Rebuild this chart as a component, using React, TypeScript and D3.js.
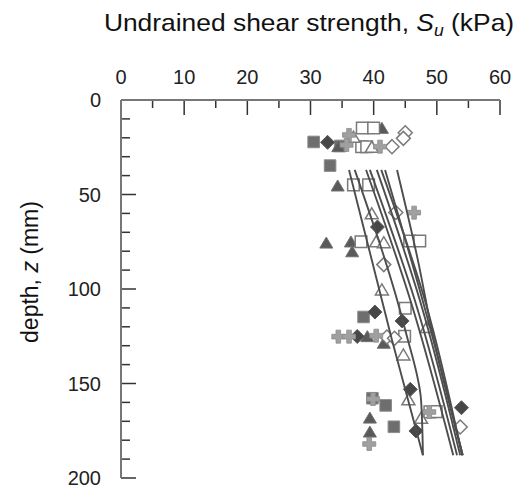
import React from 'react';
import * as d3 from 'd3';

// axis ticks
const xTicks = [0, 10, 20, 30, 40, 50, 60];
const yTicks = [0, 50, 100, 150, 200];

// measured points: [Su (kPa), depth (mm)]
const filledSquare = [[30.5, 22.2], [33.1, 34.7], [34.7, 24.3], [38.4, 114.8], [39.8, 157.8], [41.9, 161.6], [43.2, 172.9]];
const filledTriangle = [[41.3, 15.0], [34.4, 24.7], [34.3, 45.5], [32.5, 75.7], [36.4, 75.1], [36.6, 80.3], [39.0, 125.2], [41.6, 128.7], [39.4, 168.3], [39.4, 175.7]];
const openSquare = [[38.2, 14.8], [40.0, 14.8], [38.1, 24.7], [38.9, 24.7], [36.8, 44.9], [39.2, 44.9], [38.0, 75.0], [45.7, 74.6], [47.3, 74.6], [45.0, 110.2], [44.9, 125.0], [48.9, 165.0], [49.9, 164.9]];
const openTriangle = [[36.8, 19.7], [39.7, 25.0], [39.7, 60.2], [40.4, 75.0], [41.6, 75.5], [41.3, 100.5], [48.4, 120.4], [44.7, 134.9], [45.5, 158.6], [47.5, 168.4]];
const filledDiamond = [[32.7, 22.4], [40.6, 67.2], [40.2, 112.2], [44.5, 116.9], [37.4, 125.1], [45.8, 153.1], [53.9, 162.8], [46.7, 175.1]];
const openDiamond = [[45.0, 17.3], [44.7, 20.3], [42.9, 24.7], [43.5, 59.5], [41.6, 87.1], [42.1, 125.4], [43.3, 126.1], [53.7, 173.0]];
const grayPlus = [[36.1, 18.5], [35.7, 23.8], [41.0, 24.7], [46.4, 59.6], [34.4, 125.2], [36.1, 125.2], [40.4, 124.7], [39.9, 158.2], [39.3, 182.0], [48.8, 165.1]];

// fitted profiles: [Su, depth]
const fitLines = [
  [[36.1, 37], [42.9, 127], [47.8, 188]],
  [[37.0, 37], [45.0, 121.7], [47.5, 158.7], [47.8, 188]],
  [[38.8, 37], [45.8, 105.8], [52.6, 188]],
  [[39.4, 37], [46.5, 105.8], [53.2, 188]],
  [[40.5, 37], [47.3, 105.8], [53.7, 188]],
  [[41.2, 37], [48.1, 105.8], [54.0, 188]],
  [[41.8, 37], [48.6, 116.4], [54.1, 188]],
  [[43.7, 37], [47.0, 84.7], [49.2, 121.7], [54.1, 188]]
];

const width = 525,
  height = 489;
const x = d3.scaleLinear().domain([0, 60]).range([121, 500]);
const y = d3.scaleLinear().domain([0, 200]).range([100, 478]);

const font = 'Liberation Sans, Arial, sans-serif';

const shapes: Record<string, string> = {
  square: 'M-5.8,-5.8H5.8V5.8H-5.8Z',
  diamond: 'M0,-7L7,0L0,7L-7,0Z',
  triangle: 'M0,-6L6.5,5H-6.5Z',
  plus: 'M-2.3,-6.5H2.3V-2.3H6.5V2.3H2.3V6.5H-2.3V2.3H-6.5V-2.3H-2.3Z'
};

function Markers({ data, shape, fill, stroke, sw }) {
  return (
    <g>
      {data.map((d, i) => (
        <path
          key={i}
          d={shapes[shape]}
          transform={`translate(${x(d[0])},${y(d[1])})`}
          fill={fill}
          stroke={stroke}
          strokeWidth={sw}
        />
      ))}
    </g>
  );
}

export default function App() {
  const line = d3
    .line<number[]>()
    .x(d => x(d[0]))
    .y(d => y(d[1]))
    .curve(d3.curveMonotoneY);
  const xMinor = d3.range(0, 61, 5);
  const yMinor = d3.range(0, 201, 10);

  return (
    <svg width={width} height={height} style={{ position: 'absolute', left: 0, top: 0, background: '#fff' }}>
      {/* title */}
      <g transform="translate(309,31) scale(1.1,1)">
        <text textAnchor="middle" fontFamily={font} fontSize={24} fill="#111">
          Undrained shear strength, <tspan fontStyle="italic">S</tspan>
          <tspan fontStyle="italic" fontSize={16} dy={5}>u</tspan>
          <tspan dy={-5}> (kPa)</tspan>
        </text>
      </g>
      {/* y title */}
      <text
        transform="translate(38,272) rotate(-90)"
        textAnchor="middle"
        fontFamily={font}
        fontSize={23}
        fill="#111"
      >
        depth, <tspan fontStyle="italic">z</tspan> (mm)
      </text>

      {/* x axis on top */}
      {xTicks.map(t => (
        <text key={t} x={x(t)} y={84} textAnchor="middle" fontFamily={font} fontSize={20} fill="#222">
          {t}
        </text>
      ))}
      {xMinor.map(t => (
        <line
          key={t}
          x1={x(t)}
          x2={x(t)}
          y1={y(0)}
          y2={y(0) + (t % 10 === 0 ? 15 : 8)}
          stroke="#333"
          strokeWidth={1.5}
        />
      ))}
      {/* y axis */}
      {yTicks.map(t => (
        <text key={t} x={101} y={y(t) + 7} textAnchor="end" fontFamily={font} fontSize={20} fill="#222">
          {t}
        </text>
      ))}
      {yMinor.map(t => (
        <line
          key={t}
          x1={x(0)}
          x2={x(0) + (t % 50 === 0 ? 15 : 9)}
          y1={y(t)}
          y2={y(t)}
          stroke="#333"
          strokeWidth={1.5}
        />
      ))}
      <line x1={x(0)} x2={x(60)} y1={y(0)} y2={y(0)} stroke="#777" strokeWidth={2} />
      <line x1={x(0)} x2={x(0)} y1={y(0)} y2={y(200)} stroke="#777" strokeWidth={2} />

      {/* markers */}
      <Markers data={filledSquare} shape="square" fill="#6e6e6e" stroke="#8c8c8c" sw={1} />
      <Markers data={filledTriangle} shape="triangle" fill="#5a5a5a" stroke="#707070" sw={1} />
      <Markers data={openSquare} shape="square" fill="#fff" stroke="#7a7a7a" sw={1.5} />
      <Markers data={openTriangle} shape="triangle" fill="#fff" stroke="#7a7a7a" sw={1.5} />
      <Markers data={filledDiamond} shape="diamond" fill="#474747" stroke="#5a5a5a" sw={1} />
      <Markers data={openDiamond} shape="diamond" fill="#fff" stroke="#7a7a7a" sw={1.5} />
      <Markers data={grayPlus} shape="plus" fill="#a0a0a0" stroke="#8a8a8a" sw={0.8} />

      {/* fitted lines */}
      {fitLines.map((l, i) => (
        <path key={i} d={line(l) || ''} fill="none" stroke="#4d4d4d" strokeWidth={1.9} />
      ))}
    </svg>
  );
}
